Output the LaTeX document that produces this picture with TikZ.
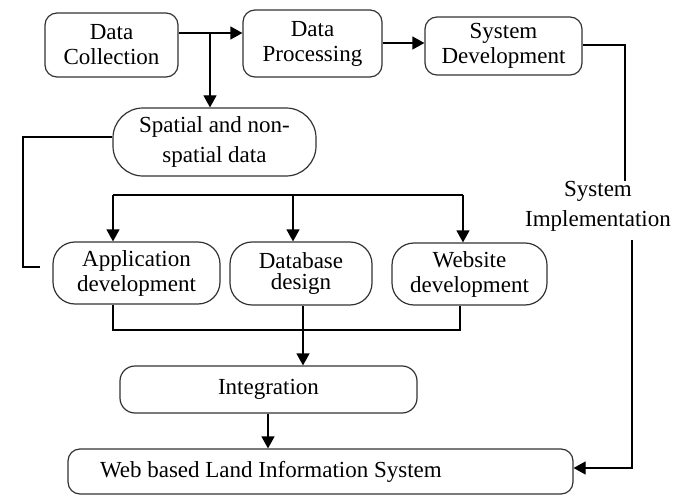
\documentclass[tikz,border=0pt]{standalone}
\usepackage{fontspec}
\setmainfont{Liberation Serif}
\usetikzlibrary{arrows.meta}
\begin{document}
\begin{tikzpicture}[x=1pt,y=-1pt,
  box/.style={draw=black!80, line width=1.2pt, rounded corners=12pt, align=center,
    inner sep=0pt, font=\fontsize{23}{25}\selectfont},
  link/.style={draw=black, line width=1.2pt},
  arr/.style={link, -{Triangle[length=12pt,width=13pt]}},
  lbl/.style={align=center, inner sep=0pt, font=\fontsize{23}{30}\selectfont}]
\useasboundingbox (0,0) rectangle (686,495);

% process boxes
\node[box, minimum width=133pt, minimum height=64pt] (dc) at (111.5,45) {Data\\Collection};
\node[box, minimum width=139pt, minimum height=67pt] (dp) at (312.5,43.5) {Data\\Processing};
\node[box, minimum width=157pt, minimum height=58pt] (sd) at (503.5,46) {System\\Development};
\node[box, rounded corners=30pt, minimum width=203pt, minimum height=68pt,
  font=\fontsize{23}{30}\selectfont] (sp) at (214.5,142) {Spatial and non-\\spatial data};
\node[box, rounded corners=22pt, minimum width=167pt, minimum height=62pt] (app) at (136.5,273) {Application\\development};
\node[box, rounded corners=22pt, minimum width=142pt, minimum height=63pt,
  font=\fontsize{23}{21}\selectfont] (db) at (301,273.5) {Database\\design};
\node[box, rounded corners=22pt, minimum width=155pt, minimum height=62pt] (web) at (469.5,274) {Website\\development};
\node[box, rounded corners=15pt, minimum width=297pt, minimum height=47pt] (integ) at (268.5,389.5) {Integration};
\node[box, minimum width=505pt, minimum height=45pt] (wblis) at (320.5,471.5)
  {\makebox[441pt][l]{Web based Land Information System}};
\node[lbl] (impl) at (598,206) {System\\Implementation};

% helper points for the routed lines
\coordinate (r1) at (0,33);
\coordinate (b1) at (210,33);
\coordinate (lft) at (23,137);
\coordinate (lftend) at (40,267);
\coordinate (merge) at (303,330);
\coordinate (rt1) at (625,45);
\coordinate (rt2) at (632,240);
\coordinate (rt3) at (632,468);

% top row
\draw[arr] (dc.east |- r1) -- (dp.west |- r1);
\draw[arr] (b1) -- (b1 |- sp.north);
\draw[arr] (dp.east |- 0,43) -- (sd.west |- 0,43);

% spatial data feed to the left
\draw[link] (sp.west |- lft) -- (lft) -- (lft |- lftend) -- (lftend);

% distribution to the three development boxes
\draw[link] (113,195) -- (463,195);
\draw[arr] (113,195) -- (113,195 |- app.north);
\draw[arr] (293,195) -- (293,195 |- db.north);
\draw[arr] (463,195) -- (463,195 |- web.north);

% collection into integration
\draw[link] (app.south -| 113,0) -- (113,330) -- (460,330) -- (web.south -| 460,0);
\draw[link] (db.south -| merge) -- (merge);
\draw[arr] (merge) -- (merge |- integ.north);
\draw[arr] (integ.south -| 268,0) -- (wblis.north -| 268,0);

% system implementation route
\draw[link] (sd.east |- rt1) -- (rt1) -- (rt1 |- impl.north);
\draw[arr] (rt2) -- (rt3) -- (wblis.east |- rt3);
\end{tikzpicture}
\end{document}
